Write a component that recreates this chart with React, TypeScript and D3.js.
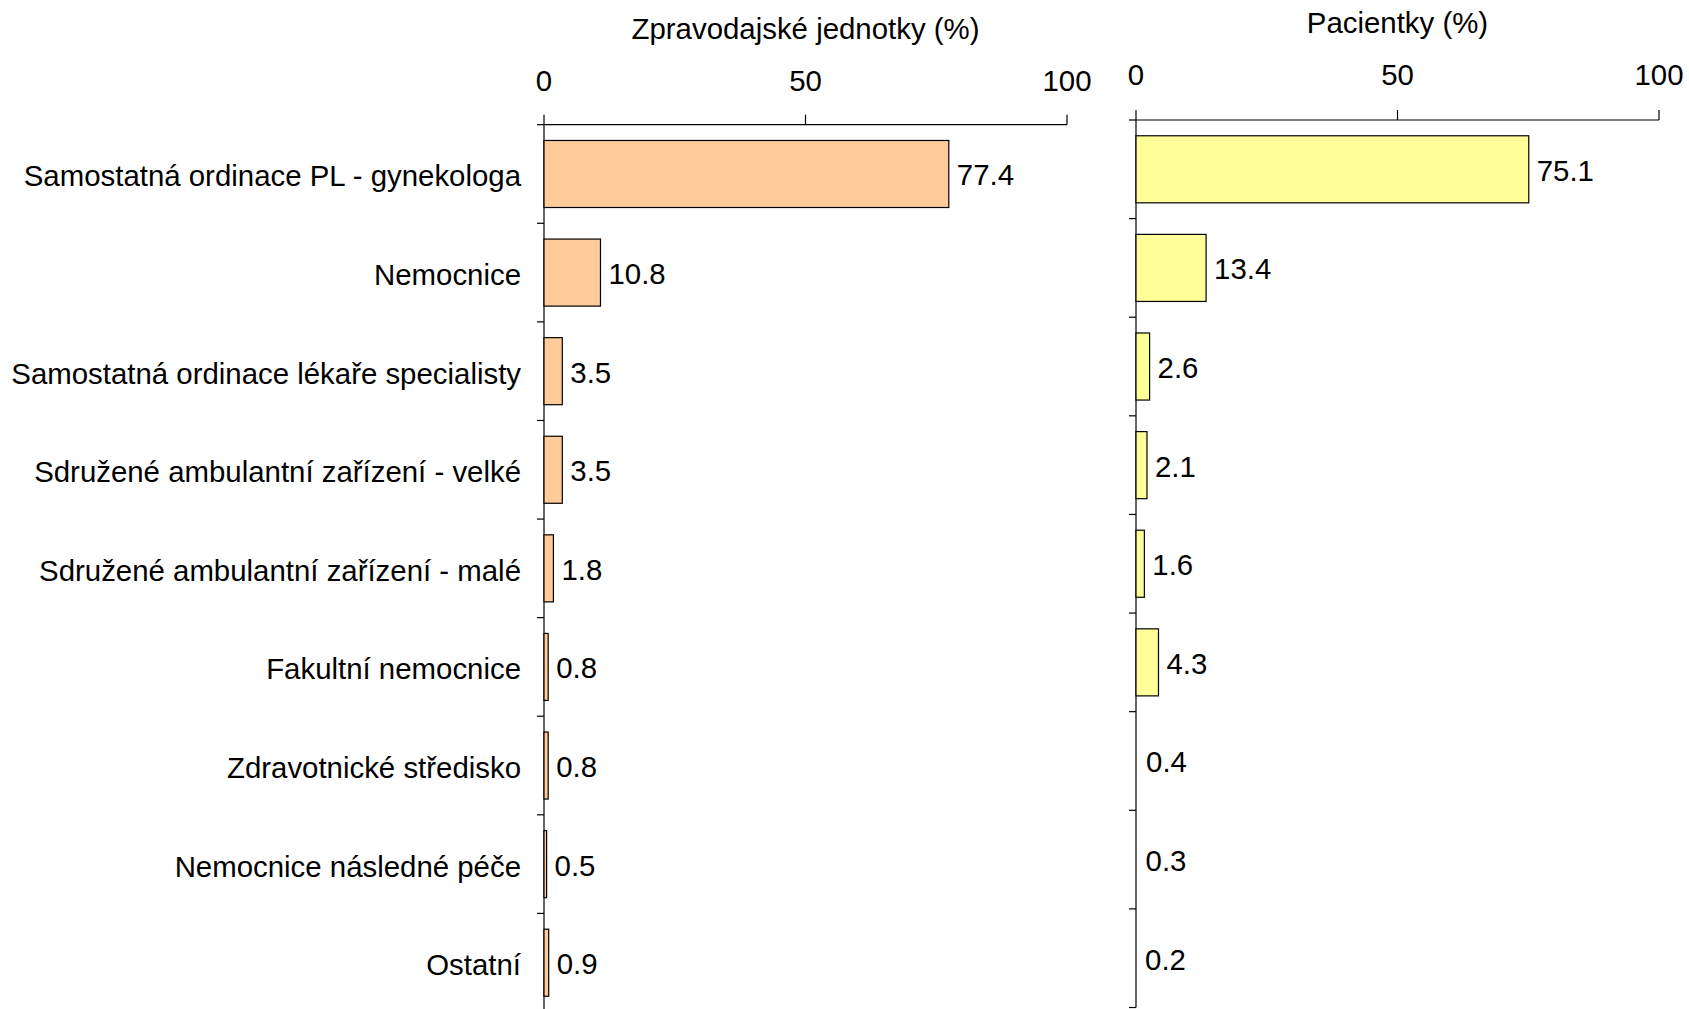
import React from "react";
import * as d3 from "d3";

const categories = [
  "Samostatná ordinace PL - gynekologa",
  "Nemocnice",
  "Samostatná ordinace lékaře specialisty",
  "Sdružené ambulantní zařízení - velké",
  "Sdružené ambulantní zařízení - malé",
  "Fakultní nemocnice",
  "Zdravotnické středisko",
  "Nemocnice následné péče",
  "Ostatní",
];
const unitValues = [77.4, 10.8, 3.5, 3.5, 1.8, 0.8, 0.8, 0.5, 0.9];
const patientValues = [75.1, 13.4, 2.6, 2.1, 1.6, 4.3, 0.4, 0.3, 0.2];
const patientBarShown = [true, true, true, true, true, true, false, false, false];
const xTicks = [0, 50, 100];
const unitTitle = "Zpravodajské jednotky (%)";
const patientTitle = "Pacientky (%)";

const FONT = "'Liberation Sans', Arial, sans-serif";
const FS = 29.4;
const SW = 1.2;

type PanelProps = {
  x0: number;
  x1: number;
  y0: number;
  y1: number;
  values: number[];
  shown?: boolean[];
  fill: string;
  title: string;
  titleY: number;
  tickLabelY: number;
  showCategories: boolean;
};

function Panel({ x0, x1, y0, y1, values, shown, fill, title, titleY, tickLabelY, showCategories }: PanelProps) {
  const x = d3.scaleLinear().domain([0, 100]).range([x0, x1]);
  const y = d3.scaleBand<string>().domain(categories).range([y0, y1]).paddingInner(0.32).paddingOuter(0.16);
  const step = y.step();
  const bounds = d3.range(categories.length + 1).map((i) => y0 + i * step);
  return (
    <g>
      <text x={(x0 + x1) / 2} y={titleY} textAnchor="middle" dominantBaseline="central" fontSize={FS} fontFamily={FONT} fill="#000">
        {title}
      </text>
      {xTicks.map((t) => (
        <g key={t}>
          <line x1={x(t)} x2={x(t)} y1={y0} y2={y0 - 10} stroke="#000" strokeWidth={SW} />
          <text x={x(t)} y={tickLabelY} textAnchor="middle" dominantBaseline="central" fontSize={FS} fontFamily={FONT} fill="#000">
            {t}
          </text>
        </g>
      ))}
      <line x1={x0} x2={x1} y1={y0} y2={y0} stroke="#000" strokeWidth={SW} />
      <line x1={x0} x2={x0} y1={y0} y2={y1} stroke="#000" strokeWidth={SW} />
      {bounds.map((b, i) => (
        <line key={i} x1={x0 - 7} x2={x0} y1={b} y2={b} stroke="#000" strokeWidth={SW} />
      ))}
      {categories.map((c, i) => {
        const by = y(c)!;
        const bh = y.bandwidth();
        const v = values[i];
        const show = shown ? shown[i] : true;
        return (
          <g key={c}>
            {show && (
              <rect x={x(0)} y={by} width={x(v) - x(0)} height={bh} fill={fill} stroke="#000" strokeWidth={SW} />
            )}
            <text x={x(v) + 8} y={by + bh / 2 + 1} dominantBaseline="central" fontSize={FS} fontFamily={FONT} fill="#000">
              {v.toFixed(1)}
            </text>
            {showCategories && (
              <text x={x0 - 23} y={by + bh / 2 + 2} textAnchor="end" dominantBaseline="central" fontSize={FS} fontFamily={FONT} fill="#000">
                {c}
              </text>
            )}
          </g>
        );
      })}
    </g>
  );
}

export default function App() {
  return (
    <svg width={1689} height={1009} style={{ position: "absolute", left: 0, top: 0, background: "#fff" }}>
      <rect x={0} y={0} width={1689} height={1009} fill="#fff" />
      <Panel x0={544} x1={1067} y0={124.7} y1={1012} values={unitValues} fill="#FFCC99" title={unitTitle} titleY={28.5} tickLabelY={80} showCategories={true} />
      <Panel x0={1136} x1={1659} y0={120} y1={1007.5} values={patientValues} shown={patientBarShown} fill="#FFFF99" title={patientTitle} titleY={22} tickLabelY={74} showCategories={false} />
    </svg>
  );
}
